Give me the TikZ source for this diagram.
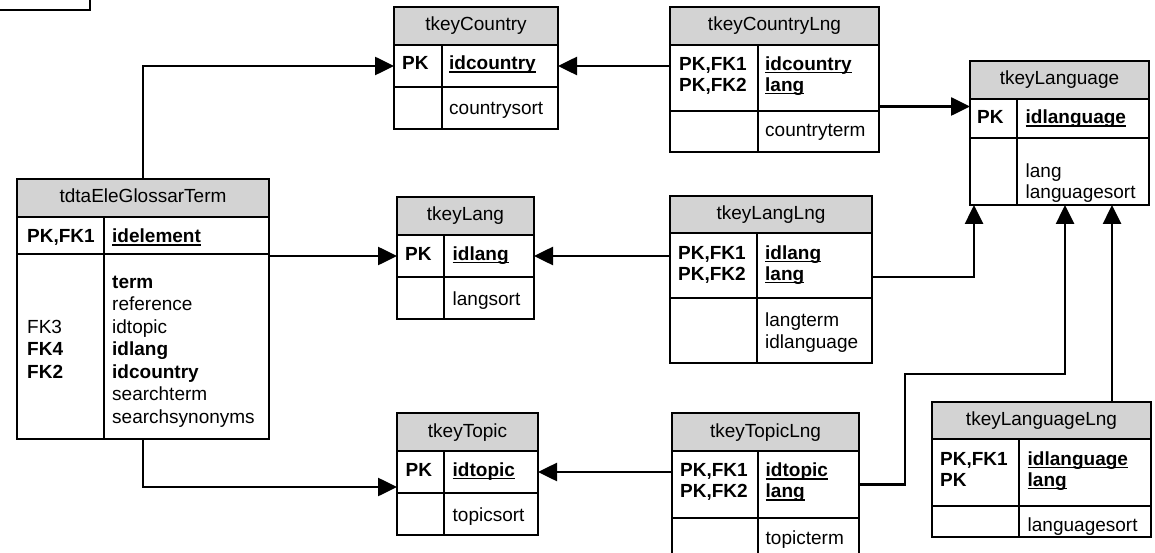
\documentclass[tikz,border=0pt]{standalone}
\usepackage{fontspec}
\setmainfont{Liberation Sans}
\usetikzlibrary{positioning,arrows.meta}

\definecolor{hdrgray}{RGB}{211,211,211}
\tikzset{
  tblhead/.style={draw, fill=hdrgray, line width=1.4pt, inner sep=0pt, outer sep=0pt, anchor=north west, text height=14pt, text depth=4pt},
  tblsect/.style={draw, line width=1.4pt, inner sep=0pt, outer sep=0pt},
  keytxt/.style={font=\bfseries, anchor=base west, inner sep=0pt},
  fldtxt/.style={anchor=base west, inner sep=0pt},
  fk/.style={line width=2.6pt, -{Triangle[length=19pt,width=18pt]}},
}

% name, left, top, right, divider, head bottom, pk bottom, bottom, title
\newcommand{\ertable}[9]{%
  \node[tblhead, minimum width={(#4-#2)*1pt}, minimum height={(#6-#3)*1pt}] (#1) at (#2,#3) {#9};
  \node[tblsect, minimum width={(#4-#2)*1pt}, minimum height={(#7-#6)*1pt}, below=0pt of #1] (#1-pk) {};
  \node[tblsect, minimum width={(#4-#2)*1pt}, minimum height={(#8-#7)*1pt}, below=0pt of #1-pk] (#1-at) {};
  \draw[line width=1.4pt] (#5,#6) -- (#5,#8);
}
\newcommand{\pkname}[1]{\setbox0\hbox{\bfseries #1}\rlap{\rule[-3pt]{\wd0}{1.5pt}}\box0}

\begin{document}
\fontsize{19}{21.3}\selectfont
\begin{tikzpicture}[x=1pt,y=-1pt]
\useasboundingbox (0,0) rectangle (1155,553);
\clip (0,0) rectangle (1155,553);
% cut-off box at the top left
\draw[line width=1.4pt] (-5,-5) rectangle (90,10);

\ertable{glossar}{17}{179}{269}{104}{217}{254}{439}{tdtaEleGlossarTerm}
\node[keytxt] (glossar-k) at (27,242.7) {PK,FK1};
\node[fldtxt] (glossar-f) at (112,242.7) {\pkname{idelement}};
\foreach \t [count=\i from 0] in {\textbf{term},reference,idtopic,\textbf{idlang},\textbf{idcountry},searchterm,searchsynonyms}
  \node[fldtxt] (glossar-a\i) at (112,288.3+22.5*\i) {\t};
\foreach \t [count=\i from 0] in {FK3,\textbf{FK4},\textbf{FK2}}
  \node[fldtxt] (glossar-b\i) at (27,333.3+22.5*\i) {\t};

\ertable{country}{394}{7}{558}{442}{45}{87}{129}{tkeyCountry}
\node[keytxt] (country-k) at (402,70) {PK};
\node[fldtxt] (country-f) at (449,70) {\pkname{idcountry}};
\node[fldtxt] (country-a) at (449,115) {countrysort};

\ertable{countrylng}{670}{7}{879}{758}{45}{111}{152}{tkeyCountryLng}
\node[keytxt] (countrylng-k1) at (679,70.5) {PK,FK1};
\node[keytxt] (countrylng-k2) at (679,91.5) {PK,FK2};
\node[fldtxt] (countrylng-f1) at (765,70.5) {\pkname{idcountry}};
\node[fldtxt] (countrylng-f2) at (765,91.5) {\pkname{lang}};
\node[fldtxt] (countrylng-a) at (765,137) {countryterm};

\ertable{lang}{397}{197}{534}{444}{235}{277}{319}{tkeyLang}
\node[keytxt] (lang-k) at (405,260) {PK};
\node[fldtxt] (lang-f) at (452.5,260) {\pkname{idlang}};
\node[fldtxt] (lang-a) at (452.5,305) {langsort};

\ertable{langlng}{670}{196}{872}{757}{233}{298}{363}{tkeyLangLng}
\node[keytxt] (langlng-k1) at (678,259) {PK,FK1};
\node[keytxt] (langlng-k2) at (678,280) {PK,FK2};
\node[fldtxt] (langlng-f1) at (765,259) {\pkname{idlang}};
\node[fldtxt] (langlng-f2) at (765,280) {\pkname{lang}};
\node[fldtxt] (langlng-a1) at (765,326.7) {langterm};
\node[fldtxt] (langlng-a2) at (765,348.3) {idlanguage};

\ertable{topic}{397}{413}{538}{444}{451}{493}{535}{tkeyTopic}
\node[keytxt] (topic-k) at (405.5,476) {PK};
\node[fldtxt] (topic-f) at (452.5,476) {\pkname{idtopic}};
\node[fldtxt] (topic-a) at (452.5,521) {topicsort};

\ertable{topiclng}{672}{413}{859}{758}{451}{518}{560}{tkeyTopicLng}
\node[keytxt] (topiclng-k1) at (680,476.5) {PK,FK1};
\node[keytxt] (topiclng-k2) at (680,497.5) {PK,FK2};
\node[fldtxt] (topiclng-f1) at (765.5,476.5) {\pkname{idtopic}};
\node[fldtxt] (topiclng-f2) at (765.5,497.5) {\pkname{lang}};
\node[fldtxt] (topiclng-a) at (765.5,544) {topicterm};

\ertable{language}{970}{61}{1149}{1017}{99}{138}{205}{tkeyLanguage}
\node[keytxt] (language-k) at (977,124) {PK};
\node[fldtxt] (language-f) at (1025.5,124) {\pkname{idlanguage}};
\node[fldtxt] (language-a1) at (1025.5,177.7) {lang};
\node[fldtxt] (language-a2) at (1025.5,199) {languagesort};

\ertable{languagelng}{932}{402}{1151}{1019}{439}{506}{537}{tkeyLanguageLng}
\node[keytxt] (languagelng-k1) at (940,465) {PK,FK1};
\node[keytxt] (languagelng-k2) at (940,486) {PK};
\node[fldtxt] (languagelng-f1) at (1027.5,465) {\pkname{idlanguage}};
\node[fldtxt] (languagelng-f2) at (1027.5,486) {\pkname{lang}};
\node[fldtxt] (languagelng-a) at (1027.5,531) {languagesort};

% relations
\coordinate (topicin) at ([yshift=-15pt]topic-pk.west);
\coordinate (languagein) at ([yshift=12pt]language-pk.west);
\coordinate (langlngout) at ([yshift=-11.5pt]langlng-pk.east);
\coordinate (topicbend) at (905,374);
\coordinate (languagelngout) at ([xshift=70.5pt]languagelng.north);

\draw[fk] (glossar.north) |- (country-pk.west);
\draw[fk] (glossar.east |- lang-pk.west) -- (lang-pk.west);
\draw[fk] (glossar-at.south) |- (topicin);
\draw[fk] (countrylng-pk.west |- country-pk.east) -- (country-pk.east);
\draw[fk] (countrylng-pk.east |- languagein) -- (languagein);
\draw[fk] (langlng-pk.west |- lang-pk.east) -- (lang-pk.east);
\draw[fk] (langlngout) -| ([xshift=4pt]language-at.south west);
\draw[fk] (topiclng-pk.west |- topic-pk.east) -- (topic-pk.east);
\draw[fk] (topiclng-pk.east) -| (topicbend) -| ([xshift=5.5pt]language-at.south);
\draw[fk] (languagelngout) -- (languagelngout |- language-at.south);
\end{tikzpicture}
\end{document}
